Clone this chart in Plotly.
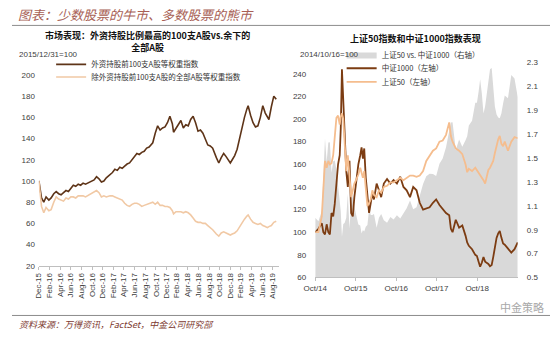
import plotly.graph_objects as go

# ---------------- left panel: foreign-held top 100 vs. rest of A-shares ----------------
left_dates = [
    "2015-12-31", "2016-01-08", "2016-01-15", "2016-01-28", "2016-02-10", "2016-02-26",
    "2016-03-10", "2016-03-25", "2016-04-08", "2016-04-22", "2016-05-06", "2016-05-20",
    "2016-06-03", "2016-06-17", "2016-07-01", "2016-07-15", "2016-07-29", "2016-08-12",
    "2016-08-26", "2016-09-09", "2016-09-23", "2016-10-14", "2016-10-28", "2016-11-11",
    "2016-11-25", "2016-12-09", "2016-12-23", "2017-01-06", "2017-01-20", "2017-02-10",
    "2017-02-24", "2017-03-10", "2017-03-24", "2017-04-07", "2017-04-21", "2017-05-05",
    "2017-05-19", "2017-06-02", "2017-06-16", "2017-06-30", "2017-07-14", "2017-07-28",
    "2017-08-11", "2017-08-25", "2017-09-08", "2017-09-22", "2017-10-13", "2017-10-27",
    "2017-11-10", "2017-11-24", "2017-12-08", "2017-12-22", "2018-01-05", "2018-01-19",
    "2018-02-02", "2018-02-09", "2018-02-23", "2018-03-09", "2018-03-23", "2018-04-06",
    "2018-04-20", "2018-05-04", "2018-05-18", "2018-06-01", "2018-06-15", "2018-06-29",
    "2018-07-13", "2018-07-27", "2018-08-10", "2018-08-24", "2018-09-07", "2018-09-21",
    "2018-10-12", "2018-10-26", "2018-11-09", "2018-11-23", "2018-12-07", "2018-12-21",
    "2018-12-31", "2019-01-11", "2019-01-25", "2019-02-08", "2019-02-22", "2019-03-08",
    "2019-03-22", "2019-04-05", "2019-04-12", "2019-04-26", "2019-05-10", "2019-05-24",
    "2019-06-07", "2019-06-21", "2019-07-05", "2019-07-19", "2019-07-31", "2019-08-09",
    "2019-08-23", "2019-09-06", "2019-09-20",
]
top100_foreign = [
    100, 88, 84, 80, 85, 82,
    84, 88, 90, 88, 87, 89,
    91, 90, 93, 96, 95, 97,
    96, 98, 97, 99, 100, 101,
    104, 102, 99, 100, 103, 106,
    108, 111, 110, 113, 112, 114,
    116, 117, 120, 124, 126, 125,
    127, 128, 131, 132, 136, 145,
    152, 148, 150, 151, 155, 161,
    154, 146, 150, 154, 157, 150,
    153, 152, 158, 161, 155, 147,
    148, 145, 140, 134, 133, 131,
    122, 117, 122, 126, 123, 120,
    117, 120, 124, 130, 140, 152,
    160, 168, 171, 162, 155, 151,
    152, 160, 171, 164, 160, 158,
    170, 180, 177,
]
rest_of_market = [
    100, 84, 76, 70, 75, 72,
    73, 80, 85, 83, 82, 81,
    84, 83, 85, 85, 84, 86,
    86, 86, 85, 87, 88, 90,
    91, 89, 85, 86, 85, 86,
    86, 85, 84, 83, 82, 79,
    77, 76, 78, 79, 79, 78,
    76, 77, 78, 79, 80, 78,
    80, 77, 77, 76, 76, 75,
    72, 69, 71, 71, 71, 70,
    71, 70, 68, 65, 62, 61,
    61, 60, 60, 58, 56, 54,
    50, 48, 51, 52, 51, 50,
    49, 50, 51, 53, 57, 61,
    64, 67, 68, 64, 61, 60,
    59, 60, 58, 57, 56, 57,
    58, 61, 62,
]
left_tick_vals = [
    "2015-12-31", "2016-02-29", "2016-04-30", "2016-06-30", "2016-08-31", "2016-10-31",
    "2016-12-31", "2017-02-28", "2017-04-30", "2017-06-30", "2017-08-31", "2017-10-31",
    "2017-12-31", "2018-02-28", "2018-04-30", "2018-06-30", "2018-08-31", "2018-10-31",
    "2018-12-31", "2019-02-28", "2019-04-30", "2019-06-30", "2019-08-31",
]
left_tick_text = [
    "Dec-15", "Feb-16", "Apr-16", "Jun-16", "Aug-16", "Oct-16",
    "Dec-16", "Feb-17", "Apr-17", "Jun-17", "Aug-17", "Oct-17",
    "Dec-17", "Feb-18", "Apr-18", "Jun-18", "Aug-18", "Oct-18",
    "Dec-18", "Feb-19", "Apr-19", "Jun-19", "Aug-19",
]

# ---------------- right panel: SSE 50 vs. CSI 1000 ----------------
right_dates = [
    "2014-10-16", "2014-11-14", "2014-12-14", "2014-12-28", "2015-01-12", "2015-01-27",
    "2015-02-11", "2015-02-25", "2015-03-12", "2015-03-27", "2015-04-10", "2015-04-25",
    "2015-05-10", "2015-05-25", "2015-06-03", "2015-06-14", "2015-06-26", "2015-07-08",
    "2015-07-23", "2015-08-06", "2015-08-21", "2015-09-05", "2015-09-20", "2015-10-04",
    "2015-10-19", "2015-11-09", "2015-11-26", "2015-12-08", "2015-12-20", "2016-01-01",
    "2016-01-15", "2016-01-30", "2016-02-14", "2016-02-29", "2016-03-14", "2016-03-29",
    "2016-04-22", "2016-05-13", "2016-06-02", "2016-06-26", "2016-07-25", "2016-08-24",
    "2016-09-22", "2016-10-22", "2016-11-21", "2016-12-20", "2017-01-18", "2017-02-17",
    "2017-03-18", "2017-04-17", "2017-05-16", "2017-06-15", "2017-07-14", "2017-08-13",
    "2017-09-12", "2017-10-11", "2017-11-10", "2017-12-09", "2018-01-08", "2018-02-06",
    "2018-02-21", "2018-03-08", "2018-04-06", "2018-05-06", "2018-06-04", "2018-07-03",
    "2018-07-18", "2018-08-02", "2018-08-31", "2018-09-29", "2018-10-14", "2018-10-29",
    "2018-11-12", "2018-11-27", "2018-12-12", "2018-12-27", "2019-01-10", "2019-01-25",
    "2019-02-09", "2019-02-24", "2019-03-10", "2019-03-25", "2019-04-09", "2019-04-24",
    "2019-05-08", "2019-05-23", "2019-06-07", "2019-06-22", "2019-07-21", "2019-08-20",
    "2019-09-18", "2019-10-17",
]
csi1000 = [
    100, 103, 108, 100, 98, 107,
    100, 98, 117, 114, 125, 143,
    160, 168, 191, 244, 211, 185,
    154, 140, 163, 117, 114, 131,
    143, 160, 168, 175, 165, 174,
    148, 131, 117, 126, 134, 129,
    143, 137, 131, 143, 147, 143,
    146, 143, 149, 140, 137, 131,
    140, 137, 126, 120, 121, 122,
    126, 129, 124, 121, 117, 115,
    103, 100, 111, 104, 106, 97,
    91, 88, 85, 80, 79, 74,
    69.5, 73, 78, 74, 73, 72,
    70, 71, 78, 88, 95, 99,
    101, 95, 90, 89, 86, 82,
    85, 91,
]
sse50 = [
    100, 100, 114, 134, 163, 157,
    163, 160, 161, 168, 185, 201,
    203, 195, 202, 205, 200, 177,
    154, 168, 148, 131, 137, 143,
    146, 151, 157, 152, 148, 154,
    137, 123, 126, 129, 137, 133,
    131, 137, 135, 140, 141, 144,
    144, 146, 148, 146, 148, 150,
    150, 149, 150, 154, 163, 167,
    172, 174, 180, 181, 186, 197,
    185, 180, 174, 172, 169, 160,
    153, 156, 154, 157, 155, 152,
    150, 149, 146, 143, 149, 155,
    157, 160, 163, 170, 177, 182,
    185, 178, 176, 180, 172, 180,
    184, 183,
]
# relative strength of large caps over small caps (right axis)
sse50_vs_csi1000 = [a / b for a, b in zip(sse50, csi1000)]

right_tick_vals = ["2014-10-16", "2015-10-16", "2016-10-16", "2017-10-16", "2018-10-16"]
right_tick_text = ["Oct/14", "Oct/15", "Oct/16", "Oct/17", "Oct/18"]

# ---------------- styling ----------------
W, H = 550, 337
CJK = "Noto Sans CJK SC"
NUM = "Liberation Sans, Arial, sans-serif"
TICK_COLOR = "#404040"
AXIS_COLOR = "#bfbfbf"


def px(x):
    return x / W


def py(y):
    return 1 - y / H


fig = go.Figure()

fig.add_trace(go.Scatter(
    x=left_dates, y=top100_foreign, mode="lines", name="外资持股前100支A股等权重指数",
    line=dict(color="#5e3418", width=1.6), xaxis="x", yaxis="y", legend="legend"))
fig.add_trace(go.Scatter(
    x=left_dates, y=rest_of_market, mode="lines", name="除外资持股前100支A股的全部A股等权重指数",
    line=dict(color="#f1c9a5", width=1.6), xaxis="x", yaxis="y", legend="legend2"))

fig.add_trace(go.Scatter(
    x=right_dates, y=sse50_vs_csi1000, mode="lines", name="上证50 vs. 中证1000（右轴）",
    line=dict(color="#d9d9d9", width=0), fill="tozeroy", fillcolor="#d9d9d9",
    xaxis="x2", yaxis="y2", legend="legend3"))
fig.add_trace(go.Scatter(
    x=right_dates, y=csi1000, mode="lines", name="中证1000（左轴）",
    line=dict(color="#7c3c12", width=1.8), xaxis="x2", yaxis="y3", legend="legend4"))
fig.add_trace(go.Scatter(
    x=right_dates, y=sse50, mode="lines", name="上证50（左轴）",
    line=dict(color="#f5bd8e", width=1.8), xaxis="x2", yaxis="y3", legend="legend5"))

tick_font = dict(family=NUM, size=8, color=TICK_COLOR)


def legend_box(x, y):
    # one single-entry legend per series, so the rows can sit as tight as in print
    return dict(
        x=px(x), y=py(y), xanchor="left", yanchor="middle", orientation="v",
        bgcolor="rgba(0,0,0,0)", borderwidth=0, itemwidth=30,
        font=dict(family=CJK, size=7.5, color="#333333"))


fig.update_layout(
    width=W, height=H,
    margin=dict(l=0, r=0, t=0, b=0),
    paper_bgcolor="white", plot_bgcolor="rgba(0,0,0,0)",
    font=dict(family=CJK, size=8, color="#333333"),
    showlegend=True,
    xaxis=dict(
        domain=[px(27.5), px(273)], range=["2015-12-31", "2019-10-06"], type="date",
        tickmode="array", tickvals=left_tick_vals, ticktext=left_tick_text, tickangle=-90,
        tickfont=tick_font, showgrid=False, zeroline=False,
        showline=True, linecolor=AXIS_COLOR, linewidth=1,
        ticks="outside", ticklen=3, tickcolor=AXIS_COLOR, anchor="y"),
    yaxis=dict(
        domain=[py(269), py(62)], range=[20, 210], tickmode="array",
        tickvals=[20, 40, 60, 80, 100, 120, 140, 160, 180, 200],
        tickfont=tick_font, showgrid=False, zeroline=False, showline=False,
        ticks="", ticklabelstandoff=3, anchor="x"),
    xaxis2=dict(
        domain=[px(310), px(517)], range=["2014-10-16", "2019-10-17"], type="date",
        tickmode="array", tickvals=right_tick_vals, ticktext=right_tick_text, tickangle=0,
        tickfont=tick_font, showgrid=False, zeroline=False,
        showline=True, linecolor=AXIS_COLOR, linewidth=1,
        ticks="outside", ticklen=3, tickcolor=AXIS_COLOR, anchor="y2"),
    yaxis2=dict(
        domain=[py(281), py(60)], range=[0.5, 2.3], side="right", tickmode="array",
        tickvals=[0.5, 0.7, 0.9, 1.1, 1.3, 1.5, 1.7, 1.9, 2.1, 2.3], tickformat=".1f",
        tickfont=tick_font, showgrid=False, zeroline=False, showline=False,
        ticks="", ticklabelstandoff=8, anchor="x2"),
    yaxis3=dict(
        range=[60, 250], side="left", overlaying="y2", tickmode="array",
        tickvals=[60, 80, 100, 120, 140, 160, 180, 200, 220, 240],
        tickfont=tick_font, showgrid=False, zeroline=False, showline=False,
        ticks="", ticklabelstandoff=8, anchor="x2"),
    legend=legend_box(40, 62),
    legend2=legend_box(40, 75),
    legend3=legend_box(337, 52),
    legend4=legend_box(337, 66),
    legend5=legend_box(337, 80),
)

# header / footer rules
fig.add_shape(type="line", xref="paper", yref="paper", x0=0, x1=1, y0=py(22), y1=py(22),
              line=dict(color="#8c8c8c", width=1))
fig.add_shape(type="line", xref="paper", yref="paper", x0=0, x1=1, y0=py(320), y1=py(320),
              line=dict(color="#8c8c8c", width=1))

annotations = [
    dict(text="<i>图表：少数股票的牛市、多数股票的熊市</i>", x=px(4), y=py(11),
         xanchor="left", yanchor="middle",
         font=dict(family=CJK, size=13, color="#a85f55")),
    dict(text="<b>市场表现：外资持股比例最高的100支A股vs.余下的<br>全部A股</b>",
         x=px(139), y=py(39), xanchor="center", yanchor="middle", align="center",
         font=dict(family=CJK, size=9, color="#111111")),
    dict(text="2015/12/31=100", x=px(5), y=py(52), xanchor="left", yanchor="middle",
         font=dict(family=NUM, size=8, color=TICK_COLOR)),
    dict(text="<b>上证50指数和中证1000指数表现</b>", x=px(412), y=py(35),
         xanchor="center", yanchor="middle",
         font=dict(family=CJK, size=9, color="#111111")),
    dict(text="2014/10/16=100", x=px(292), y=py(52), xanchor="left", yanchor="middle",
         font=dict(family=NUM, size=8, color=TICK_COLOR)),
    dict(text="<i>资料来源：万得资讯，FactSet，中金公司研究部</i>", x=px(5), y=py(329),
         xanchor="left", yanchor="middle",
         font=dict(family=CJK, size=9, color="#7d3a30")),
    dict(text="中金策略", x=px(546), y=py(311), xanchor="right", yanchor="middle",
         font=dict(family=CJK, size=11, color="#a8a8a8")),
]
for a in annotations:
    a.update(xref="paper", yref="paper", showarrow=False)
    fig.add_annotation(**a)

fig.write_html("out.html")
